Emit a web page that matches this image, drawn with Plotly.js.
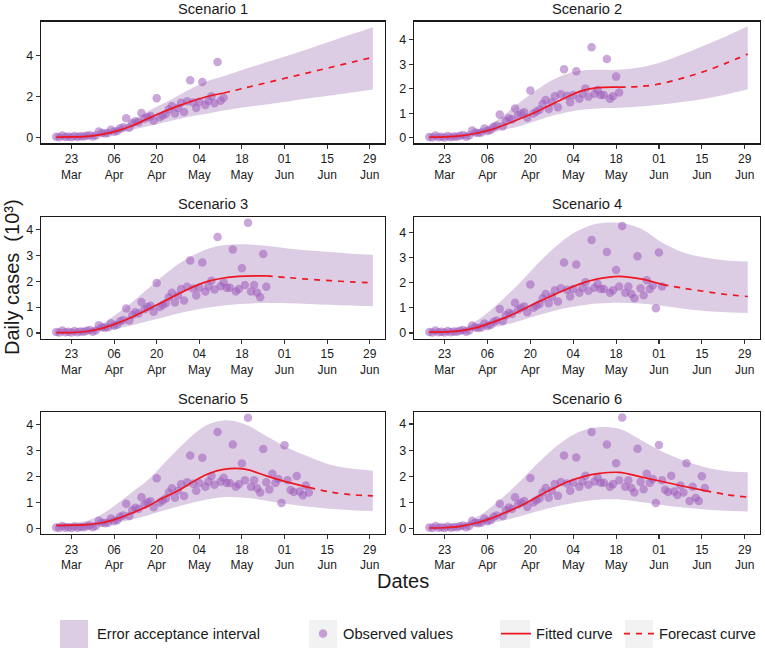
<!DOCTYPE html>
<html>
<head>
<meta charset="utf-8">
<script src="https://cdn.plot.ly/plotly-3.0.1.min.js"></script>
<style>html,body{margin:0;padding:0;background:#fff;}#chart{width:765px;height:651px;}</style>
</head>
<body>
<div id="chart"></div>
<script>
// ---------------- DATA ----------------
// Observed daily cases (thousands), one per day starting 18 Mar 2020
const obsStart = '2020-03-18';
const observed = [
  0.04, 0.02, 0.10, 0.03, 0.05, 0.02, 0.08, 0.03, 0.06, 0.05, 0.09, 0.12, 0.05, 0.10,
  0.30, 0.22, 0.20, 0.22, 0.38, 0.28, 0.32, 0.45, 0.50,
  0.95, 0.48, 0.70, 0.80, 0.75, 1.20, 0.92, 1.00, 1.05, 0.82,
  1.93, 1.00, 1.08, 1.15, 1.38, 1.55, 1.18, 1.45, 1.70, 1.25,
  1.78, 2.80, 1.72, 1.45, 1.75, 2.72, 1.60, 1.80, 2.02, 1.68,
  3.70, 1.80, 1.95, 1.75, 1.75, 3.22, 1.60, 1.70, 2.50, 1.85,
  4.25, 1.60, 1.85, 1.55, 1.38, 3.05, 1.78, 1.50, 2.10, 1.75,
  1.90, 0.98, 3.20, 1.85, 1.48, 1.40, 2.02, 1.42, 1.28, 1.65,
  1.38, 2.50, 1.05, 1.60, 1.18, 1.05, 2.00, 1.55
];
// Last observed date used by each scenario
const scenarioNames = ['Scenario 1','Scenario 2','Scenario 3','Scenario 4','Scenario 5','Scenario 6'];
const fitEndDates = ['2020-05-12','2020-05-19','2020-05-26','2020-06-02','2020-06-09','2020-06-16'];
// Model curve sample dates
const curveDates = ['2020-03-18','2020-03-23','2020-03-28','2020-04-02','2020-04-07','2020-04-12',
  '2020-04-17','2020-04-22','2020-04-27','2020-05-02','2020-05-07','2020-05-12','2020-05-19',
  '2020-05-26','2020-06-02','2020-06-09','2020-06-16','2020-06-23','2020-06-30'];
// Model curves (fitted up to fit end, forecast after)
const curve1 = [0.02,0.03,0.06,0.16,0.33,0.58,0.92,1.25,1.54,1.80,2.02,2.18,2.43,2.68,2.93,3.18,3.43,3.68,3.93];
const curve2 = [0.03,0.04,0.08,0.18,0.33,0.55,0.80,1.07,1.37,1.67,1.93,2.05,2.07,2.10,2.22,2.45,2.72,3.05,3.42];
const curve3 = [0.02,0.02,0.06,0.18,0.38,0.62,0.90,1.20,1.50,1.78,2.00,2.12,2.19,2.20,2.14,2.07,2.02,1.97,1.93];
const curve4 = [0.03,0.04,0.08,0.20,0.40,0.62,0.90,1.20,1.48,1.75,1.98,2.15,2.25,2.15,1.93,1.78,1.65,1.53,1.45];
const curve5 = [0.12,0.13,0.15,0.22,0.38,0.60,0.85,1.17,1.45,1.80,2.10,2.27,2.28,2.02,1.78,1.58,1.40,1.30,1.25];
const curve6 = [0.02,0.03,0.08,0.20,0.38,0.62,0.88,1.20,1.50,1.78,1.98,2.10,2.15,1.98,1.80,1.62,1.45,1.30,1.20];
// Error acceptance interval bounds
const lower1 = [0,0,0.02,0.08,0.20,0.38,0.55,0.72,0.90,1.05,1.18,1.32,1.48,1.62,1.77,1.92,2.06,2.20,2.35];
const upper1 = [0.04,0.05,0.10,0.22,0.45,0.85,1.28,1.65,2.05,2.45,2.78,3.00,3.35,3.68,4.00,4.35,4.70,5.05,5.40];
const lower2 = [0,0,0.03,0.10,0.20,0.35,0.50,0.70,0.90,1.05,1.15,1.20,1.23,1.28,1.36,1.47,1.60,1.77,1.98];
const upper2 = [0.05,0.06,0.12,0.28,0.55,1.00,1.50,1.95,2.35,2.62,2.75,2.78,2.78,2.88,3.10,3.42,3.78,4.15,4.55];
const lower3 = [0,0,0.02,0.08,0.18,0.30,0.45,0.60,0.75,0.88,0.98,1.06,1.13,1.16,1.15,1.12,1.09,1.06,1.03];
const upper3 = [0.04,0.05,0.12,0.35,0.75,1.20,1.70,2.20,2.65,3.00,3.25,3.38,3.42,3.36,3.26,3.18,3.12,3.06,3.02];
const lower4 = [0,0,0.03,0.10,0.20,0.33,0.50,0.68,0.85,1.00,1.10,1.17,1.20,1.17,1.08,0.96,0.87,0.82,0.79];
const upper4 = [0.05,0.06,0.15,0.45,0.90,1.45,2.05,2.70,3.30,3.80,4.15,4.35,4.38,4.15,3.60,3.20,3.00,2.88,2.84];
const lower5 = [0.05,0.06,0.08,0.12,0.22,0.35,0.50,0.68,0.85,1.00,1.12,1.20,1.18,1.07,0.94,0.84,0.76,0.70,0.67];
const upper5 = [0.20,0.22,0.30,0.55,0.95,1.40,1.85,2.45,3.05,3.60,4.00,4.15,4.00,3.55,3.10,2.75,2.45,2.30,2.22];
const lower6 = [0,0,0.03,0.10,0.20,0.33,0.48,0.65,0.80,0.93,1.03,1.10,1.11,1.02,0.90,0.80,0.73,0.68,0.65];
const upper6 = [0.05,0.06,0.15,0.40,0.80,1.30,1.85,2.45,3.00,3.45,3.75,3.88,3.82,3.40,2.95,2.60,2.35,2.20,2.15];
// Axis ticks
const tickDates = ['2020-03-23','2020-04-06','2020-04-20','2020-05-04','2020-05-18','2020-06-01','2020-06-15','2020-06-29'];
const tickLabels = ['23<br>Mar','06<br>Apr','20<br>Apr','04<br>May','18<br>May','01<br>Jun','15<br>Jun','29<br>Jun'];
const legendNames = ['Error acceptance interval','Observed values','Fitted curve','Forecast curve'];

// ---------------- BUILD ----------------
const curves = [curve1,curve2,curve3,curve4,curve5,curve6];
const lowers = [lower1,lower2,lower3,lower4,lower5,lower6];
const uppers = [upper1,upper2,upper3,upper4,upper5,upper6];

function dayString(start, n){
  const p = start.split('-').map(Number);
  const d = new Date(Date.UTC(p[0], p[1]-1, p[2] + n));
  return d.toISOString().slice(0,10);
}
const obsDates = observed.map((_, i) => dayString(obsStart, i));

const BAND = '#ddcde4';
const DOT = 'rgba(158,92,188,0.55)';
const RED = 'rgb(238,22,34)';
const FONT = 'Arial, "Liberation Sans", sans-serif';

const traces = [];
// legend-only key for the interval (its square is drawn as a key box below)
traces.push({x: [null], y: [null], type: 'scatter', mode: 'markers',
  marker: {size: 1, color: 'rgba(0,0,0,0)'}, name: legendNames[0], legend: 'legend', showlegend: true, hoverinfo: 'skip'});
for (let k = 0; k < 6; k++) {
  const xa = k === 0 ? 'x' : 'x' + (k+1);
  const ya = k === 0 ? 'y' : 'y' + (k+1);
  const first = k === 0;
  traces.push({x: curveDates, y: lowers[k], xaxis: xa, yaxis: ya, type: 'scatter', mode: 'lines',
    line: {width: 0, shape: 'spline', color: BAND}, showlegend: false, hoverinfo: 'skip'});
  traces.push({x: curveDates, y: uppers[k], xaxis: xa, yaxis: ya, type: 'scatter', mode: 'lines',
    line: {width: 0, shape: 'spline', color: BAND}, fill: 'tonexty', fillcolor: BAND,
    name: legendNames[0], showlegend: false});
  const end = fitEndDates[k];
  const ox = [], oy = [];
  obsDates.forEach((d, i) => { if (d <= end) { ox.push(d); oy.push(observed[i]); } });
  traces.push({x: ox, y: oy, xaxis: xa, yaxis: ya, type: 'scatter', mode: 'markers',
    marker: {size: 8.5, color: DOT}, name: legendNames[1], legend: 'legend2', showlegend: first});
  const fx = [], fy = [], gx = [], gy = [];
  curveDates.forEach((d, i) => {
    if (d <= end) { fx.push(d); fy.push(curves[k][i]); }
    if (d >= end) { gx.push(d); gy.push(curves[k][i]); }
  });
  traces.push({x: fx, y: fy, xaxis: xa, yaxis: ya, type: 'scatter', mode: 'lines',
    line: {color: RED, width: 1.7, shape: 'spline'}, name: legendNames[2], legend: 'legend3', showlegend: first});
  traces.push({x: gx, y: gy, xaxis: xa, yaxis: ya, type: 'scatter', mode: 'lines',
    line: {color: RED, width: 1.7, dash: '6px,6px', shape: 'spline'}, name: legendNames[3], legend: 'legend4', showlegend: first});
}

const W = 765, H = 651;
const colX = [[41, 385], [414, 760]];
const rowY = [[21.7, 143.3], [217.3, 338.5], [412.3, 534]];
const yRanges = [[-0.28, 5.67], [-0.22, 4.74], [-0.21, 4.46], [-0.22, 4.6], [-0.21, 4.46], [-0.21, 4.45]];
const yDticks = [2, 1, 1, 1, 1, 1];

const layout = {
  width: W, height: H,
  margin: {l: 0, r: 0, t: 0, b: 0},
  paper_bgcolor: '#fff', plot_bgcolor: '#fff',
  font: {family: FONT, color: '#1a1a1a'},
  annotations: [], shapes: []
};
for (let k = 0; k < 6; k++) {
  const c = colX[k % 2], r = rowY[Math.floor(k / 2)];
  const xn = k === 0 ? 'xaxis' : 'xaxis' + (k+1);
  const yn = k === 0 ? 'yaxis' : 'yaxis' + (k+1);
  const yid = k === 0 ? 'y' : 'y' + (k+1);
  const xid = k === 0 ? 'x' : 'x' + (k+1);
  layout[xn] = {
    domain: [c[0]/W, c[1]/W], anchor: yid, type: 'date',
    range: ['2020-03-13', '2020-07-04'],
    tickmode: 'array', tickvals: tickDates, ticktext: tickLabels,
    ticks: 'outside', ticklen: 4, tickwidth: 1.1, tickcolor: '#333',
    showline: true, mirror: true, linecolor: '#1a1a1a', linewidth: 1.3,
    showgrid: false, zeroline: false, tickfont: {size: 12, color: '#1a1a1a'},
    fixedrange: true, automargin: false
  };
  layout[yn] = {
    domain: [1 - r[1]/H, 1 - r[0]/H], anchor: xid,
    range: yRanges[k], dtick: yDticks[k], tick0: 0,
    ticks: 'outside', ticklen: 4, tickwidth: 1.1, tickcolor: '#333',
    showline: true, mirror: true, linecolor: '#1a1a1a', linewidth: 1.3,
    showgrid: false, zeroline: false, tickfont: {size: 12.5, color: '#1a1a1a'},
    fixedrange: true, automargin: false
  };
  layout.annotations.push({
    text: scenarioNames[k], xref: 'paper', yref: 'paper',
    x: (c[0] + c[1]) / 2 / W, y: 1 - r[0]/H, xanchor: 'center', yanchor: 'bottom', yshift: 3,
    showarrow: false, font: {size: 14.67, color: '#1a1a1a'}
  });
}
layout.annotations.push({
  text: 'Daily cases\u00a0\u00a0(10³)', xref: 'paper', yref: 'paper', x: 12/W, y: 1 - 277/H,
  xanchor: 'center', yanchor: 'middle', textangle: -90, showarrow: false, font: {size: 20, color: '#1a1a1a'}
});
layout.annotations.push({
  text: 'Dates', xref: 'paper', yref: 'paper', x: 403/W, y: 1 - 581/H,
  xanchor: 'center', yanchor: 'middle', showarrow: false, font: {size: 20, color: '#1a1a1a'}
});

// Legends (one per key) and key backgrounds
const legY = 1 - 634/H;
const legXs = [57, 303, 496, 619];
['legend','legend2','legend3','legend4'].forEach((name, i) => {
  layout[name] = {x: legXs[i]/W, y: legY, xanchor: 'left', yanchor: 'middle',
    orientation: 'h', bgcolor: 'rgba(0,0,0,0)', font: {size: 14.67, color: '#1a1a1a'}};
});
const keyBoxes = [[60, 88, BAND], [309, 337, '#f2f2f2'], [500, 530, '#f2f2f2'], [625, 653, '#f2f2f2']];
keyBoxes.forEach(b => {
  layout.shapes.push({type: 'rect', xref: 'paper', yref: 'paper', x0: b[0]/W, x1: b[1]/W,
    y0: 1 - 648/H, y1: 1 - 620/H, fillcolor: b[2], line: {width: 0}, layer: 'above'});
});

Plotly.newPlot('chart', traces, layout, {staticPlot: true, displayModeBar: false});
</script>
</body>
</html>
